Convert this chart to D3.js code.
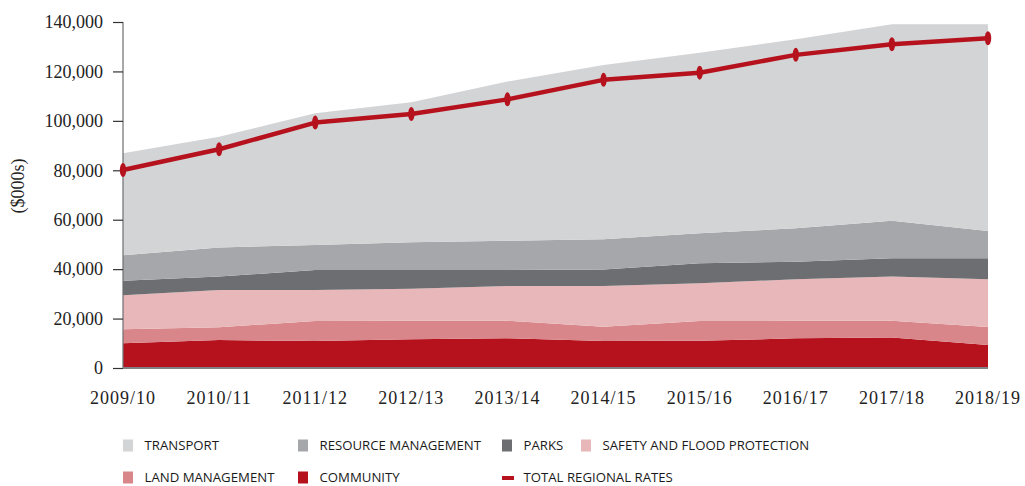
<!DOCTYPE html>
<html><head><meta charset="utf-8">
<script src="https://cdn.jsdelivr.net/npm/d3@7"></script>
<style>body{margin:0;background:#fff}svg{display:block}</style>
</head><body><svg id="c" width="1025" height="486"></svg>
<script>
const years = ["2009/10","2010/11","2011/12","2012/13","2013/14","2014/15","2015/16","2016/17","2017/18","2018/19"];
const community = [10000,11300,10900,11600,12000,10900,11000,12000,12300,9300];
const landManagement = [5700,5200,8100,7500,7100,5800,8000,7100,6800,7300];
const safetyFlood = [13700,15100,12600,13000,14100,16500,15300,16800,17900,19300];
const parks = [5900,5400,8100,7600,6500,6700,8100,7100,7400,8500];
const resourceManagement = [10300,11800,10100,11200,11800,12200,12100,13500,15200,11000];
const transport = [41300,44800,53300,56600,64400,70500,73100,76500,79500,83700];
const totalRegionalRates = [80100,88500,99300,102800,108700,116600,119500,126700,131000,133400];
const yTicks = [0,20000,40000,60000,80000,100000,120000,140000];

const seriesNames = ["COMMUNITY","LAND MANAGEMENT","SAFETY AND FLOOD PROTECTION","PARKS","RESOURCE MANAGEMENT","TRANSPORT"];
const seriesData = [community,landManagement,safetyFlood,parks,resourceManagement,transport];
const colors = ["#b5121e","#d9868b","#e8b7b9","#6d6e71","#a6a7aa","#d3d4d6"];
const lineColor = "#b5121e";

const svg = d3.select("#c");
const m = {l:123, r:988, t:22, b:368};
const x = d3.scalePoint().domain(years).range([m.l, m.r]);
const y = d3.scaleLinear().domain([0,140000]).range([m.b, m.t]);

const rows = years.map((yr,i)=>{const o={year:yr}; seriesNames.forEach((n,k)=>o[n]=seriesData[k][i]); return o;});
const stack = d3.stack().keys(seriesNames)(rows);
const area = d3.area().x(d=>x(d.data.year)).y0(d=>y(d[0])).y1(d=>y(d[1]));
svg.append("g").selectAll("path").data(stack).join("path")
  .attr("d", area).attr("fill",(d,i)=>colors[i]);

// axes
const serif = "'Liberation Serif','Times New Roman',serif";
const ya = svg.append("g").attr("transform",`translate(${m.l},0)`)
  .call(d3.axisLeft(y).tickValues(yTicks).tickFormat(d3.format(",")).tickSize(10).tickPadding(10));
ya.select(".domain").attr("stroke","#6d6e71").attr("stroke-width",1.2).attr("d",`M0,${m.t}V${m.b}`);
ya.selectAll(".tick line").attr("stroke","#333").attr("stroke-width",1.2);
ya.selectAll(".tick text").attr("font-family",serif).attr("font-size",18).attr("fill","#222");

svg.append("line").attr("x1",m.l).attr("x2",m.r).attr("y1",m.b).attr("y2",m.b)
  .attr("stroke","#808184").attr("stroke-width",2);
svg.append("g").selectAll("text").data(years).join("text")
  .attr("x",d=>x(d)).attr("y",404).attr("text-anchor","middle")
  .attr("font-family",serif).attr("font-size",18).attr("letter-spacing",1).attr("fill","#222").text(d=>d);

svg.append("text").attr("transform","translate(24,186) rotate(-90)").attr("text-anchor","middle")
  .attr("font-family",serif).attr("font-size",18).attr("fill","#222").text("($000s)");

// total line
const line = d3.line().x((d,i)=>x(years[i])).y(d=>y(d));
svg.append("path").datum(totalRegionalRates).attr("d",line).attr("fill","none")
  .attr("stroke",lineColor).attr("stroke-width",4.5).attr("stroke-linejoin","round");
svg.append("g").selectAll("ellipse").data(totalRegionalRates).join("ellipse")
  .attr("cx",(d,i)=>x(years[i])).attr("cy",d=>y(d)).attr("rx",3.2).attr("ry",7).attr("fill",lineColor);

// legend
const sans = "'Open Sans',sans-serif";
const r1 = 445.5, r2 = 477.5;
const leg = [
  {n:"TRANSPORT",c:colors[5],x:123,y:r1},
  {n:"RESOURCE MANAGEMENT",c:colors[4],x:298,y:r1},
  {n:"PARKS",c:colors[3],x:502,y:r1},
  {n:"SAFETY AND FLOOD PROTECTION",c:colors[2],x:581,y:r1},
  {n:"LAND MANAGEMENT",c:colors[1],x:123,y:r2},
  {n:"COMMUNITY",c:colors[0],x:298,y:r2},
  {n:"TOTAL REGIONAL RATES",c:lineColor,x:502,y:r2,line:true}
];
const lg = svg.append("g").selectAll("g").data(leg).join("g");
lg.append("rect").attr("x",d=>d.x).attr("y",d=>d.line?d.y-1.5:d.y-6)
  .attr("width",d=>d.line?12:10).attr("height",d=>d.line?4:12).attr("fill",d=>d.c);
lg.append("text").attr("x",d=>d.x+21.5).attr("y",d=>d.y).attr("dy","0.36em")
  .attr("font-family",sans).attr("font-size",13.2).attr("fill","#1a1a1a").text(d=>d.n);
</script></body></html>
